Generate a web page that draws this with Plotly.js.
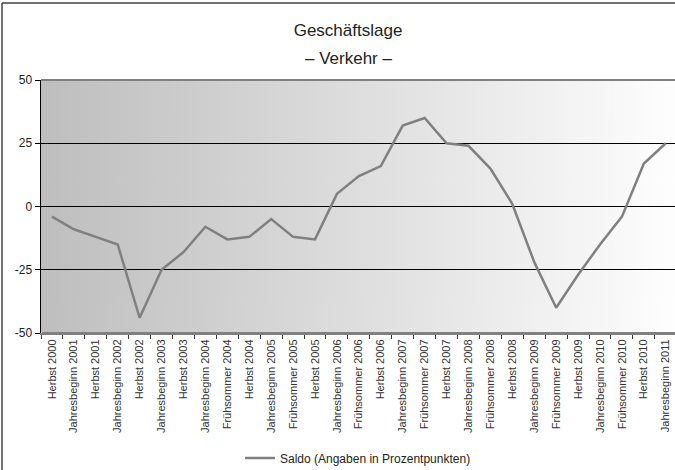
<!DOCTYPE html>
<html><head><meta charset="utf-8">
<script src="https://cdn.plot.ly/plotly-3.0.1.min.js"></script>
<style>html,body{margin:0;padding:0;overflow:hidden;background:#fff}</style>
</head><body><div id="chart" style="width:675px;height:470px"></div>
<script>
const categories = [
  'Herbst 2000','Jahresbeginn 2001','Herbst 2001','Jahresbeginn 2002','Herbst 2002',
  'Jahresbeginn 2003','Herbst 2003','Jahresbeginn 2004','Frühsommer 2004','Herbst 2004',
  'Jahresbeginn 2005','Frühsommer 2005','Herbst 2005','Jahresbeginn 2006','Frühsommer 2006',
  'Herbst 2006','Jahresbeginn 2007','Frühsommer 2007','Herbst 2007','Jahresbeginn 2008',
  'Frühsommer 2008','Herbst 2008','Jahresbeginn 2009','Frühsommer 2009','Herbst 2009',
  'Jahresbeginn 2010','Frühsommer 2010','Herbst 2010','Jahresbeginn 2011'
];
const saldo = [-4,-9,-12,-15,-44,-25,-18,-8,-13,-12,-5,-12,-13,5,12,16,32,35,25,24,15,1,-22,-40,-27,-15,-4,17,25];
const yTickVals = [-50,-25,0,25,50];
const yTickText = ['-50','-25','0','25','50'];
const seriesName = 'Saldo (Angaben in Prozentpunkten)';
const titleText = 'Geschäftslage';
const subtitleText = '– Verkehr –';

// gradient background image
const cv = document.createElement('canvas');
cv.width = 256; cv.height = 4;
const ctx = cv.getContext('2d');
const g = ctx.createLinearGradient(0,0,256,0);
g.addColorStop(0,'#bebebe');
g.addColorStop(1,'#fefefe');
ctx.fillStyle = g; ctx.fillRect(0,0,256,4);
const bgSrc = cv.toDataURL('image/png');

const font = 'Liberation Sans, Arial, sans-serif';
const W = 675, H = 470, L = 41, T = 80, B = 137, R = 0;
const pw = W - L - R, ph = H - T - B;
const px = x => (x - L) / pw;
const py = y => (H - B - y) / ph;

const trace = {
  type: 'scatter', mode: 'lines', x: categories, y: saldo, name: seriesName,
  line: {color: '#808080', width: 2.5}, hoverinfo: 'x+y'
};

const layout = {
  width: W, height: H,
  margin: {l: L, r: R, t: T, b: B, pad: 0},
  paper_bgcolor: '#ffffff', plot_bgcolor: 'rgba(0,0,0,0)',
  font: {family: font, color: '#222', size: 12},
  showlegend: true,
  title: {text: titleText, x: 348 / W, xanchor: 'center', xref: 'container',
          y: 1 - 30 / H, yanchor: 'middle', yref: 'container',
          font: {family: font, size: 17, color: '#222'}},
  annotations: [{text: subtitleText, xref: 'paper', yref: 'paper', x: px(348), y: py(58),
                 xanchor: 'center', yanchor: 'middle', showarrow: false,
                 font: {family: font, size: 17, color: '#222'}}],
  xaxis: {type: 'category', range: [-0.5, 28.42], tickson: 'boundaries',
          ticks: 'outside', ticklen: 4, tickcolor: '#333', tickwidth: 1,
          showline: true, linecolor: '#808080', linewidth: 2,
          showgrid: false, zeroline: false, tickangle: -90, automargin: false,
          tickfont: {family: font, size: 11, color: '#333'}, fixedrange: true},
  yaxis: {range: [-50, 50], tickvals: yTickVals, ticktext: yTickText,
          ticks: 'outside', ticklen: 5, tickcolor: '#000', tickwidth: 1,
          showline: true, linecolor: '#000', linewidth: 1.5,
          showgrid: true, gridcolor: '#000', gridwidth: 1, zeroline: false,
          automargin: false, tickfont: {family: font, size: 12, color: '#222'}, fixedrange: true},
  legend: {orientation: 'h', x: px(358), xanchor: 'center', xref: 'paper',
           y: 12 / H, yanchor: 'middle', yref: 'container',
           font: {family: font, size: 12, color: '#222'}, bgcolor: 'rgba(0,0,0,0)'},
  images: [{source: bgSrc, xref: 'paper', yref: 'paper', x: 0, y: 1, sizex: 1, sizey: 1,
            sizing: 'stretch', layer: 'below', xanchor: 'left', yanchor: 'top'}],
  shapes: [
    {type: 'line', xref: 'paper', yref: 'paper', x0: 0, x1: 1, y0: 1, y1: 1,
     line: {color: '#808080', width: 2}},
    {type: 'line', xref: 'paper', yref: 'paper', x0: 0.002, x1: 1, y0: 0, y1: 0,
     line: {color: '#808080', width: 2}},
    {type: 'line', xref: 'paper', yref: 'paper', x0: px(2), x1: px(2), y0: py(3), y1: py(480),
     line: {color: '#444', width: 1.5}},
    {type: 'line', xref: 'paper', yref: 'paper', x0: px(2), x1: px(690), y0: py(3), y1: py(3),
     line: {color: '#444', width: 1.5}}
  ]
};

Plotly.newPlot('chart', [trace], layout, {displayModeBar: false, staticPlot: true});
</script></body></html>
